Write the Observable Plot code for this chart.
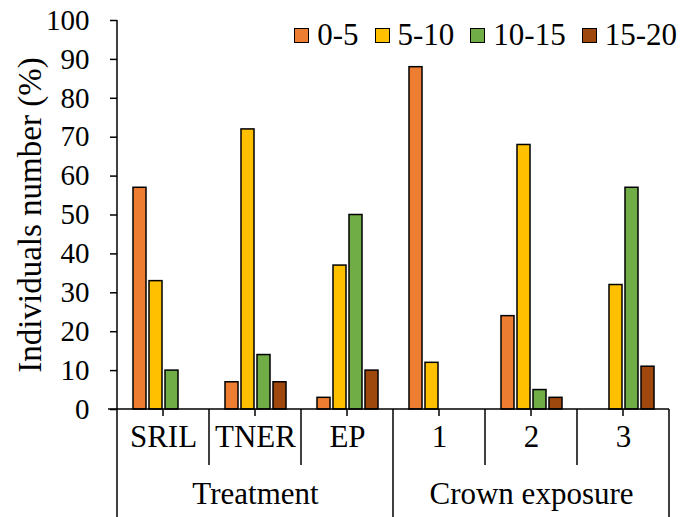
<!DOCTYPE html>
<html>
<head>
<meta charset="utf-8">
<script src="https://cdn.jsdelivr.net/npm/d3@7"></script>
<script src="https://cdn.jsdelivr.net/npm/@observablehq/plot@0.6"></script>
<style>
  body { margin: 0; background: #fff; }
  #wrap { position: relative; width: 683px; height: 517px; font-family: "Liberation Serif", "Times New Roman", serif; }
  #wrap svg text { font-family: "Liberation Serif", "Times New Roman", serif !important; }
  #legend { position: absolute; right: 6px; top: 16px; display: flex; align-items: center; font-family: "Liberation Serif", "Times New Roman", serif !important; font-size: 31px; line-height: 38px; color: #000; }
  .item { display: flex; align-items: center; margin-left: 16px; }
  .sw { width: 13px; height: 13px; border: 1.5px solid #000; margin-right: 8px; }
</style>
</head>
<body>
<div id="wrap"></div>
<script>
const categories = ["SRIL", "TNER", "EP", "1", "2", "3"];
const groups = ["Treatment", "Crown exposure"];
const groupOfCategory = [0, 0, 0, 1, 1, 1];
const groupMiddleCategory = ["TNER", "2"];
const series = ["0-5", "5-10", "10-15", "15-20"];
const colors = ["#ED7D31", "#FFC000", "#70AD47", "#9E480E"];
const v0_5   = [57, 7, 3, 88, 24, 0];
const v5_10  = [33, 72, 37, 12, 68, 32];
const v10_15 = [10, 14, 50, 0, 5, 57];
const v15_20 = [0, 7, 10, 0, 3, 11];
const yTicks = [0, 10, 20, 30, 40, 50, 60, 70, 80, 90, 100];
const yTitle = "Individuals number (%)";

const seriesValues = [v0_5, v5_10, v10_15, v15_20];
const data = [];
categories.forEach((c, i) => series.forEach((s, j) => data.push({cat: c, series: s, value: seriesValues[j][i]})));

const font = "Liberation Serif";
const plot = Plot.plot({
  width: 683,
  height: 517,
  marginLeft: 114,
  marginRight: 12,
  marginTop: 20,
  marginBottom: 108,
  style: {fontFamily: font, background: "#fff", color: "#000"},
  fx: {domain: categories, padding: 0, axis: null},
  x: {domain: series, paddingInner: 0.2, paddingOuter: 0.82, axis: null},
  y: {domain: [0, 100], axis: null},
  color: {domain: series, range: colors},
  marks: [
    Plot.axisY({ticks: yTicks, tickSize: 7, tickPadding: 21, fontSize: 29, fontFamily: font, label: null, strokeWidth: 1.5, stroke: "#000", fill: "#000"}),
    Plot.barY(data, {fx: "cat", x: "series", y: "value", fill: "series", stroke: "#000", strokeWidth: 1.5, filter: d => d.value > 0}),
    Plot.text(categories, {fx: d => d, text: d => d, frameAnchor: "bottom", dy: 37, fontSize: 31, fontFamily: font, fill: "#000"}),
    Plot.text(groups, {fx: (d, i) => groupMiddleCategory[i], text: d => d, frameAnchor: "bottom", dy: 94, fontSize: 31, fontFamily: font, fill: "#000"}),
    Plot.text([yTitle], {fx: () => categories[0], text: d => d, frameAnchor: "left", textAnchor: "middle", dx: -87, rotate: -90, fontSize: 33, fontFamily: font, fill: "#000"})
  ]
});

// axis lines and multi-level category separators, from the plot's scales
const fx = plot.scale("fx");
const ys = plot.scale("y");
const y0 = ys.apply(0), yTop = ys.apply(100);
const bw = fx.bandwidth;
const left = fx.apply(categories[0]);
const right = fx.apply(categories[categories.length - 1]) + bw;
const svg = d3.select(plot);
const g = svg.append("g").attr("stroke", "#000").attr("stroke-width", 1.5).attr("fill", "none");
g.append("line").attr("x1", left).attr("x2", left).attr("y1", yTop).attr("y2", y0);
g.append("line").attr("x1", left - 9).attr("x2", right).attr("y1", y0).attr("y2", y0);
categories.forEach((c, i) => {
  const x = fx.apply(c);
  const isGroupEdge = i === 0 || groupOfCategory[i] !== groupOfCategory[i - 1];
  g.append("line").attr("x1", x).attr("x2", x).attr("y1", y0).attr("y2", isGroupEdge ? 517 : y0 + 56);
  g.append("line").attr("x1", x + bw / 2).attr("x2", x + bw / 2).attr("y1", y0).attr("y2", y0 + 7);
});
g.append("line").attr("x1", right).attr("x2", right).attr("y1", y0).attr("y2", 517);

const wrap = document.getElementById("wrap");
wrap.appendChild(plot);

const legend = document.createElement("div");
legend.id = "legend";
series.forEach((s, j) => {
  const item = document.createElement("div");
  item.className = "item";
  const sw = document.createElement("div");
  sw.className = "sw";
  sw.style.background = colors[j];
  const t = document.createElement("span");
  t.textContent = s;
  item.appendChild(sw);
  item.appendChild(t);
  legend.appendChild(item);
});
wrap.appendChild(legend);
</script>
</body>
</html>
